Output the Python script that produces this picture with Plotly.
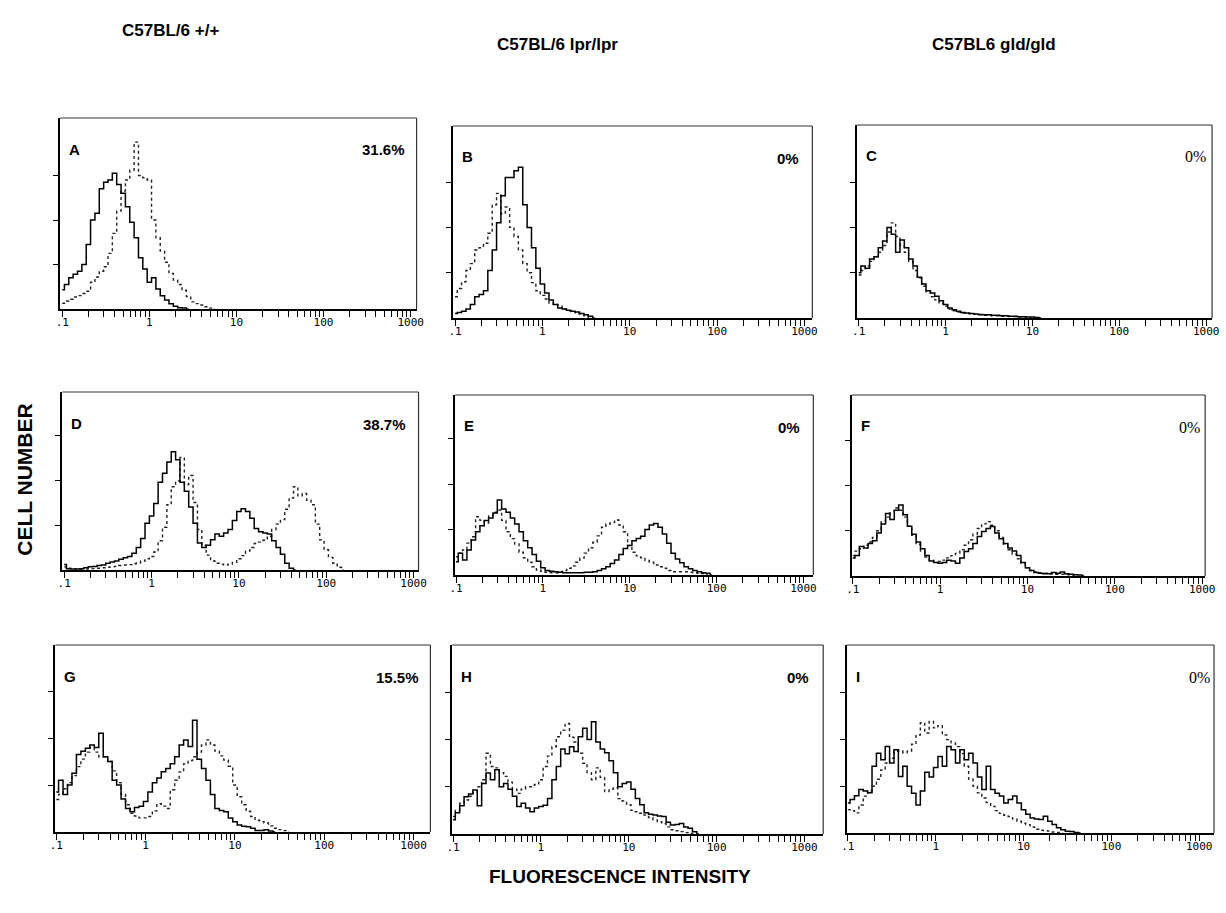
import numpy as np
import plotly.graph_objects as go

# ---------------- data ----------------
# Histogram channels: log10(fluorescence) starting at -1 (FI = 0.1), 0.05 decade per channel
LOG_START = -1.0
LOG_STEP = 0.05

column_titles = ["C57BL/6 +/+", "C57BL/6 lpr/lpr", "C57BL6 gld/gld"]
panel_letters = ["A", "B", "C", "D", "E", "F", "G", "H", "I"]
panel_percent = ["31.6%", "0%", "0%", "38.7%", "0%", "0%", "15.5%", "0%", "0%"]

tick_values = [0.1, 0.2, 0.3, 0.4, 0.5, 0.6, 0.7, 0.8, 0.9,
               1, 2, 3, 4, 5, 6, 7, 8, 9,
               10, 20, 30, 40, 50, 60, 70, 80, 90,
               100, 200, 300, 400, 500, 600, 700, 800, 900, 1000]
tick_labels = {0.1: ".1", 1: "1", 10: "10", 100: "100", 1000: "1000"}

A_solid = [0.43, 0.55, 0.70, 0.78, 0.85, 1.0, 1.45, 2.0, 2.15, 2.7, 2.85, 2.9, 3.05, 2.8, 2.6, 2.3,
           1.95, 1.6, 1.15, 0.9, 0.6, 0.7, 0.45, 0.3, 0.2, 0.12, 0.06, 0.03, 0.02, 0.0]
A_dotted = [0.13, 0.18, 0.22, 0.27, 0.3, 0.35, 0.4, 0.6, 0.72, 0.85, 0.95, 1.25, 1.7, 2.2, 2.65, 2.9,
            3.12, 3.75, 3.0, 2.95, 2.9, 2.0, 1.6, 1.3, 1.05, 0.8, 0.65, 0.55, 0.42, 0.28, 0.16, 0.12,
            0.09, 0.05, 0.02, 0.0]

B_solid = [0.1, 0.12, 0.15, 0.2, 0.3, 0.47, 0.52, 0.6, 1.05, 1.5, 2.1, 2.7, 3.1, 3.1, 3.25, 3.33,
           2.5, 2.0, 1.55, 1.1, 0.75, 0.55, 0.4, 0.3, 0.22, 0.2, 0.17, 0.15, 0.13, 0.1, 0.07, 0.04, 0.0]
B_dotted = [0.47, 0.65, 0.8, 1.05, 1.2, 1.5, 1.55, 1.65, 1.87, 2.5, 2.75, 2.3, 2.45, 2.0, 1.8, 1.5,
            1.2, 1.0, 0.78, 0.6, 0.5, 0.42, 0.33, 0.3, 0.26, 0.2, 0.16, 0.14, 0.1, 0.08, 0.05, 0.0]

C_solid = [1.0, 1.15, 1.1, 1.3, 1.35, 1.55, 1.7, 2.0, 1.85, 1.45, 1.72, 1.55, 1.3, 1.15, 0.9, 0.75,
           0.6, 0.55, 0.48, 0.38, 0.3, 0.22, 0.18, 0.15, 0.12, 0.11, 0.1, 0.09, 0.08, 0.07, 0.07,
           0.06, 0.06, 0.05, 0.05, 0.04, 0.04, 0.03, 0.03, 0.02, 0.02, 0.01, 0.0]
C_dotted = [0.95, 1.05, 1.15, 1.25, 1.35, 1.45, 1.6, 1.9, 2.1, 1.8, 1.6, 1.45, 1.25, 1.05, 0.88, 0.7,
            0.58, 0.47, 0.4, 0.32, 0.26, 0.2, 0.16, 0.13, 0.11, 0.1, 0.09, 0.08, 0.07, 0.06, 0.06,
            0.05, 0.05, 0.04, 0.04, 0.03, 0.03, 0.02, 0.02, 0.01, 0.0]

D_solid = [0.12, 0.03, 0.02, 0.02, 0.03, 0.05, 0.07, 0.08, 0.1, 0.11, 0.15, 0.18, 0.2, 0.24, 0.27, 0.3,
           0.37, 0.5, 0.7, 1.04, 1.2, 1.48, 1.95, 2.15, 2.4, 2.63, 2.45, 1.95, 1.75, 1.4, 1.04, 0.6,
           0.5, 0.55, 0.67, 0.8, 0.75, 0.82, 0.9, 1.1, 1.3, 1.36, 1.3, 1.15, 0.92, 0.85, 0.82, 0.8,
           0.65, 0.5, 0.35, 0.15, 0.04, 0.0]
D_dotted = [0.07, 0.04, 0.03, 0.02, 0.02, 0.02, 0.03, 0.03, 0.04, 0.05, 0.06, 0.07, 0.08, 0.1, 0.11, 0.12,
            0.14, 0.16, 0.2, 0.25, 0.3, 0.4, 0.65, 0.95, 1.45, 1.85, 1.98, 2.5, 1.9, 2.1, 1.5, 0.9,
            0.55, 0.33, 0.2, 0.15, 0.13, 0.11, 0.13, 0.17, 0.25, 0.32, 0.42, 0.5, 0.59, 0.62, 0.66, 0.75,
            0.9, 1.02, 1.12, 1.35, 1.6, 1.85, 1.65, 1.7, 1.55, 1.45, 1.02, 0.67, 0.45, 0.28, 0.15,
            0.06, 0.0]

E_solid = [0.29, 0.48, 0.33, 0.55, 0.77, 0.95, 1.08, 1.2, 1.25, 1.36, 1.65, 1.45, 1.38, 1.25, 1.12, 0.95,
           0.75, 0.6, 0.45, 0.3, 0.16, 0.1, 0.08, 0.07, 0.06, 0.05, 0.05, 0.05, 0.05, 0.05, 0.06, 0.06,
           0.07, 0.1, 0.14, 0.18, 0.25, 0.33, 0.45, 0.58, 0.65, 0.75, 0.8, 0.85, 1.0, 1.1, 1.13, 1.05,
           0.9, 0.7, 0.48, 0.35, 0.27, 0.18, 0.14, 0.1, 0.07, 0.05, 0.04, 0.0]
E_dotted = [0.4, 0.48, 0.55, 0.7, 0.84, 1.28, 1.2, 1.14, 1.3, 1.38, 1.43, 1.2, 0.95, 0.8, 0.68, 0.5,
            0.38, 0.28, 0.18, 0.11, 0.08, 0.06, 0.05, 0.05, 0.07, 0.1, 0.15, 0.2, 0.28, 0.37, 0.48, 0.6,
            0.72, 0.86, 1.05, 1.12, 1.15, 1.21, 1.1, 0.95, 0.65, 0.5, 0.42, 0.38, 0.32, 0.28, 0.22, 0.18,
            0.15, 0.1, 0.07, 0.07, 0.07, 0.07, 0.06, 0.05, 0.04, 0.03, 0.0]

F_solid = [0.4, 0.45, 0.65, 0.62, 0.72, 0.78, 0.95, 1.15, 1.38, 1.25, 1.45, 1.57, 1.35, 1.1, 0.92, 0.75,
           0.6, 0.45, 0.33, 0.3, 0.28, 0.3, 0.35, 0.33, 0.28, 0.4, 0.54, 0.6, 0.72, 0.87, 0.98, 1.05,
           1.09, 0.95, 0.82, 0.72, 0.62, 0.55, 0.45, 0.3, 0.18, 0.12, 0.08, 0.06, 0.05, 0.05, 0.08, 0.06,
           0.09, 0.05, 0.04, 0.03, 0.02, 0.0]
F_dotted = [0.45, 0.55, 0.6, 0.68, 0.75, 0.85, 1.0, 1.2, 1.3, 1.4, 1.5, 1.45, 1.3, 1.1, 0.9, 0.7,
            0.55, 0.42, 0.35, 0.32, 0.32, 0.35, 0.4, 0.45, 0.5, 0.58, 0.68, 0.8, 0.92, 1.05, 1.15, 1.2,
            1.12, 1.0, 0.85, 0.7, 0.58, 0.48, 0.38, 0.28, 0.18, 0.12, 0.09, 0.07, 0.06, 0.05, 0.05, 0.04,
            0.04, 0.03, 0.02, 0.0]

G_solid = [0.85, 1.1, 0.8, 1.0, 1.25, 1.65, 1.72, 1.78, 1.85, 1.8, 2.1, 1.6, 1.5, 1.1, 1.0, 0.7,
           0.5, 0.43, 0.52, 0.55, 0.65, 0.85, 1.05, 1.15, 1.28, 1.35, 1.45, 1.6, 1.85, 1.96, 1.82, 2.38,
           1.55, 1.35, 1.1, 0.8, 0.5, 0.46, 0.43, 0.3, 0.22, 0.15, 0.12, 0.11, 0.08, 0.03, 0.03, 0.05,
           0.02, 0.0]
G_dotted = [0.69, 0.8, 0.92, 1.05, 1.2, 1.39, 1.55, 1.7, 1.8, 1.7, 1.6, 1.6, 1.5, 1.3, 1.05, 0.8,
            0.58, 0.4, 0.34, 0.3, 0.3, 0.33, 0.45, 0.6, 0.55, 0.5, 0.9, 1.1, 1.28, 1.45, 1.52, 1.6,
            1.7, 1.85, 1.96, 1.85, 1.72, 1.62, 1.53, 1.4, 1.0, 0.75, 0.58, 0.44, 0.33, 0.25, 0.22, 0.19,
            0.13, 0.08, 0.05, 0.03, 0.0]

H_solid = [0.3, 0.45, 0.6, 0.79, 0.85, 0.93, 0.6, 1.07, 1.29, 1.15, 1.36, 1.0, 1.07, 0.95, 0.8, 0.58,
           0.65, 0.55, 0.47, 0.55, 0.58, 0.61, 0.75, 1.15, 1.43, 1.8, 1.7, 1.85, 1.75, 2.06, 2.24, 2.0,
           2.38, 1.95, 1.8, 1.72, 1.55, 1.3, 1.0, 1.07, 1.1, 0.95, 0.75, 0.62, 0.45, 0.42, 0.4, 0.38,
           0.37, 0.25, 0.19, 0.2, 0.22, 0.15, 0.12, 0.05, 0.0]
H_dotted = [0.37, 0.5, 0.65, 0.72, 0.8, 0.88, 1.0, 1.15, 1.71, 1.43, 1.4, 1.3, 1.22, 1.1, 0.95, 0.86,
            0.95, 1.0, 1.0, 1.05, 1.15, 1.43, 1.65, 1.85, 2.06, 2.2, 2.34, 2.05, 1.95, 1.71, 1.5, 1.3,
            1.15, 1.4, 1.2, 0.9, 0.95, 0.98, 0.75, 0.7, 0.62, 0.5, 0.47, 0.44, 0.4, 0.35, 0.3, 0.26,
            0.22, 0.15, 0.09, 0.07, 0.05, 0.03, 0.01, 0.0]

I_solid = [0.64, 0.72, 0.8, 0.93, 0.9, 0.86, 1.43, 1.71, 1.57, 1.85, 1.5, 1.78, 1.21, 1.43, 1.0, 0.85,
           0.6, 0.9, 1.3, 1.2, 1.4, 1.64, 1.43, 1.85, 1.78, 1.5, 1.78, 1.57, 1.71, 1.5, 1.2, 0.93,
           1.43, 0.93, 0.85, 0.79, 0.64, 0.72, 0.79, 0.64, 0.5, 0.4, 0.32, 0.3, 0.29, 0.36, 0.25, 0.18,
           0.11, 0.07, 0.04, 0.03, 0.01, 0.0]
I_dotted = [0.5, 0.48, 0.43, 0.6, 0.79, 0.9, 1.0, 1.15, 1.35, 1.5, 1.6, 1.75, 1.76, 1.72, 1.75, 1.9,
            2.1, 2.36, 2.14, 2.39, 2.25, 2.3, 2.1, 2.0, 1.93, 1.85, 1.7, 1.43, 1.15, 1.0, 0.86, 0.75,
            0.65, 0.57, 0.48, 0.42, 0.38, 0.35, 0.3, 0.25, 0.21, 0.18, 0.13, 0.08, 0.06, 0.05, 0.04,
            0.02, 0.01, 0.0]

solid_series = [A_solid, B_solid, C_solid, D_solid, E_solid, F_solid, G_solid, H_solid, I_solid]
dotted_series = [A_dotted, B_dotted, C_dotted, D_dotted, E_dotted, F_dotted, G_dotted, H_dotted, I_dotted]

# ---------------- layout geometry (pixels) ----------------
W, H = 1226, 913
# left, right, top, bottom, x-pixel of ".1", pixels per decade, pixels per y-tick, percent inset
boxes = [
    (55, 416, 118, 309, 57, 88.25, 44.5, 10),
    (453, 817, 126, 318, 455, 88.5, 45.3, 11),
    (862, 1222, 125, 318, 864, 88.0, 45.3, 4),
    (57, 418, 392, 570, 59, 88.5, 45.0, 11),
    (455, 818, 395, 575, 456, 88.0, 45.5, 11),
    (857, 1215, 395, 576, 858, 88.5, 45.3, 3),
    (50, 430, 645, 832, 51, 90.5, 47.0, 10),
    (452, 828, 645, 834, 453, 89.0, 47.2, 12),
    (852, 1224, 645, 833, 853, 89.0, 46.7, 2),
]


def px(x):
    return x / W


def py(y):
    return 1 - y / H


fig = go.Figure()
annotations = []
shapes = []

for i, (l, r, t, b, x01, dec, ytick, inset) in enumerate(boxes):
    n = i + 1
    xname = "x" if n == 1 else f"x{n}"
    yname = "y" if n == 1 else f"y{n}"
    for series, dash, width, color in ((dotted_series[i], "dot", 1.4, "#222222"),
                                       (solid_series[i], "solid", 1.5, "black")):
        fi = 10 ** (LOG_START + LOG_STEP * np.arange(len(series)))
        fig.add_trace(go.Scatter(
            x=fi, y=series, xaxis=xname, yaxis=yname, mode="lines",
            line=dict(color=color, width=width, dash=dash, shape="hvh"),
            showlegend=False, hoverinfo="skip"))

    xr0 = -1 - (x01 - l) / dec
    xr1 = -1 + (r - x01) / dec
    ytop = (b - t) / ytick
    xkey = "xaxis" if n == 1 else f"xaxis{n}"
    ykey = "yaxis" if n == 1 else f"yaxis{n}"
    fig.update_layout(**{
        xkey: dict(
            type="log", domain=[px(l), px(r)], range=[xr0, xr1], anchor=yname,
            showline=True, mirror=False, linecolor="black", linewidth=2,
            ticks="outside", ticklen=6, tickwidth=1.2, tickcolor="black",
            tickvals=tick_values,
            ticktext=[tick_labels.get(v, "") for v in tick_values],
            tickfont=dict(family="DejaVu Sans Mono", size=11, color="black"),
            ticklabelstandoff=-4,
            showgrid=False, zeroline=False),
        ykey: dict(
            domain=[py(b), py(t)], range=[0, ytop], anchor=xname,
            showline=True, mirror=False, linecolor="black", linewidth=2,
            ticks="outside", ticklen=5, tickwidth=1, tickcolor="black",
            tickvals=[1, 2, 3], showticklabels=False,
            showgrid=False, zeroline=False),
    })
    # thinner top and right frame lines
    shapes.append(dict(type="line", xref="paper", yref="paper",
                       x0=px(l), x1=px(r), y0=py(t), y1=py(t),
                       line=dict(color="#333333", width=1.2)))
    shapes.append(dict(type="line", xref="paper", yref="paper",
                       x0=px(r), x1=px(r), y0=py(t), y1=py(b),
                       line=dict(color="#333333", width=1.2)))

    annotations.append(dict(
        x=px(l + 7), y=py(t + 31), xref="paper", yref="paper", xanchor="left", yanchor="middle",
        text=f"<b>{panel_letters[i]}</b>", showarrow=False,
        font=dict(family="Liberation Sans", size=15, color="black")))
    serif = panel_percent[i] == "0%" and i % 3 == 2
    annotations.append(dict(
        x=px(r - inset), y=py(t + 32), xref="paper", yref="paper", xanchor="right", yanchor="middle",
        text=panel_percent[i] if serif else f"<b>{panel_percent[i]}</b>", showarrow=False,
        font=dict(family="Liberation Serif" if serif else "Liberation Sans",
                  size=16 if serif else 15, color="black")))

# column titles
for txt, cx, cy in zip(column_titles, [167, 559, 1001], [30, 45, 45]):
    annotations.append(dict(
        x=px(cx), y=py(cy), xref="paper", yref="paper", xanchor="center", yanchor="middle",
        text=f"<b>{txt}</b>", showarrow=False,
        font=dict(family="Liberation Sans", size=17, color="black")))

annotations.append(dict(
    x=px(18), y=py(480), xref="paper", yref="paper", xanchor="center", yanchor="middle",
    text="<b>CELL NUMBER</b>", textangle=-90, showarrow=False,
    font=dict(family="Liberation Sans", size=21, color="black")))
annotations.append(dict(
    x=px(622), y=py(876), xref="paper", yref="paper", xanchor="center", yanchor="middle",
    text="<b>FLUORESCENCE INTENSITY</b>", showarrow=False,
    font=dict(family="Liberation Sans", size=19, color="black")))

fig.update_layout(
    width=W, height=H, margin=dict(l=0, r=0, t=0, b=0),
    paper_bgcolor="white", plot_bgcolor="white",
    annotations=annotations, shapes=shapes, showlegend=False)

fig.write_html("out.html")
